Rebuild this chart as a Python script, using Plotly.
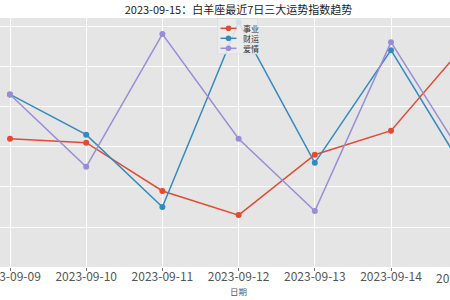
import pandas as pd
import plotly.graph_objects as go

dates = ["2023-09-09", "2023-09-10", "2023-09-11", "2023-09-12",
         "2023-09-13", "2023-09-14", "2023-09-15"]
career = [62, 61, 49, 43, 58, 64, 86]   # 事业
wealth = [73, 63, 45, 91, 56, 84, 53]   # 财运
love = [73, 55, 88, 62, 44, 86, 56]     # 爱情
series_names = ["事业", "财运", "爱情"]
colors = ["#E24A33", "#348ABD", "#988ED5"]
title_text = "2023-09-15：白羊座最近7日三大运势指数趋势"
xlabel = "日期"

W, H = 450, 300
ML, MR, MT, MB = 0, 0, 18, 33
PX_PER_DAY = 76.2
FONT = "Noto Sans CJK SC"
TICK_SIZE = 12

d0 = pd.Timestamp(dates[0])
x_start = d0 - pd.Timedelta(days=10 / PX_PER_DAY)
x_end = d0 + pd.Timedelta(days=(W - 10) / PX_PER_DAY)

fig = go.Figure()
for name, vals, c in zip(series_names, [career, wealth, love], colors):
    fig.add_trace(go.Scatter(
        x=dates, y=vals, name=name, mode="lines+markers",
        line=dict(color=c, width=1.5),
        marker=dict(color=c, size=6),
        showlegend=False, cliponaxis=True,
    ))

fig.update_layout(
    width=W, height=H,
    margin=dict(l=ML, r=MR, t=MT, b=MB, pad=0, autoexpand=False),
    paper_bgcolor="white",
    plot_bgcolor="#E5E5E5",
    font=dict(family=FONT, color="#555555"),
    title=dict(text=title_text, x=238.5 / W, xanchor="center",
               y=1 - 10 / H, yanchor="middle",
               font=dict(size=11, color="#222222", family=FONT)),
    xaxis=dict(
        type="date", range=[x_start, x_end], automargin=False,
        tickvals=dates, ticktext=dates,
        showgrid=True, gridcolor="white", gridwidth=1,
        ticks="outside", ticklen=3, tickcolor="#777777",
        ticklabeloverflow="allow", ticklabelstandoff=-4,
        tickfont=dict(size=TICK_SIZE, color="#555555", family=FONT),
        zeroline=False, showline=False,
    ),
    yaxis=dict(
        range=[30.1, 92.0], dtick=10, tick0=0, automargin=False,
        showgrid=True, gridcolor="white", gridwidth=1,
        showticklabels=False, ticks="", zeroline=False, showline=False,
    ),
)

plot_h = H - MT - MB
def py(p):
    return (H - MB - p) / plot_h
def px(p):
    return p / W

# tick label for the last date, which lies just right of the visible area
last_frac = (pd.Timestamp(dates[-1]) - x_start) / (x_end - x_start)
fig.add_annotation(text=dates[-1], xref="paper", yref="paper",
                   x=last_frac, y=py(277), xanchor="center", yanchor="middle",
                   showarrow=False,
                   font=dict(size=TICK_SIZE, color="#555555", family=FONT))

# x axis title centred under the full axes
fig.add_annotation(text=xlabel, xref="paper", yref="paper",
                   x=238.5 / W, y=py(291),
                   xanchor="center", yanchor="middle", showarrow=False,
                   font=dict(size=8.5, color="#555555", family=FONT))

# compact legend box
fig.add_shape(type="rect", xref="paper", yref="paper",
              x0=px(217.5), x1=px(257.5), y0=py(54), y1=py(18.5),
              fillcolor="rgba(236,236,236,0.85)",
              line=dict(color="#D6D6D6", width=0.6), layer="above")
rows = [28.3, 38.3, 48.3]
for name, c, ry in zip(series_names, colors, rows):
    fig.add_shape(type="line", xref="paper", yref="paper",
                  x0=px(220.5), x1=px(236.5), y0=py(ry), y1=py(ry),
                  line=dict(color=c, width=1.5), layer="above")
    fig.add_shape(type="circle", xref="paper", yref="paper",
                  x0=px(228.5 - 2.8), x1=px(228.5 + 2.8),
                  y0=py(ry + 2.8), y1=py(ry - 2.8),
                  fillcolor=c, line=dict(color=c, width=0), layer="above")
    fig.add_annotation(text=name, xref="paper", yref="paper",
                       x=px(241), y=py(ry), xanchor="left", yanchor="middle",
                       showarrow=False,
                       font=dict(size=8, color="#333333", family=FONT))

fig.write_html("out.html")
